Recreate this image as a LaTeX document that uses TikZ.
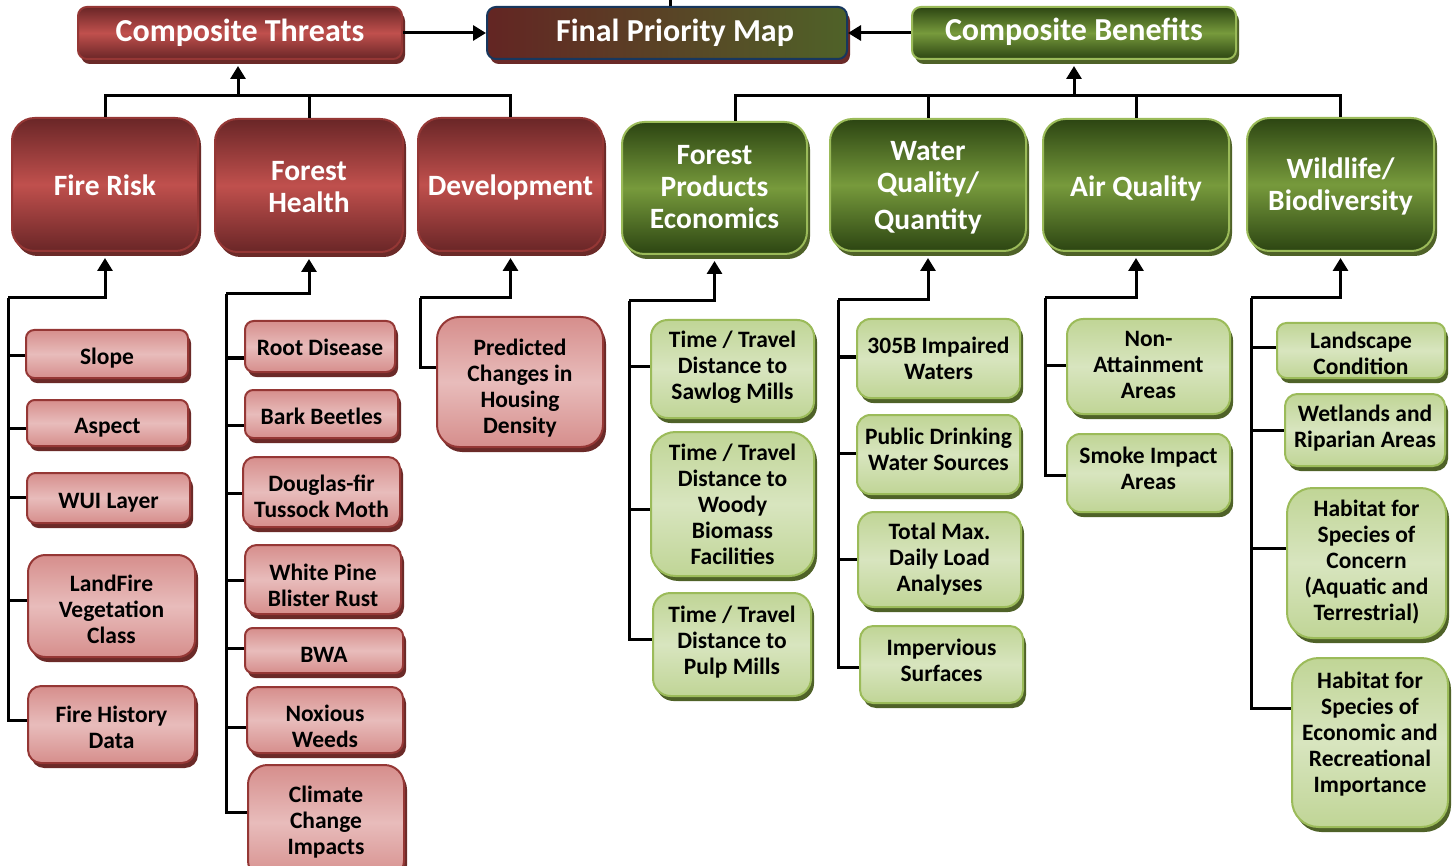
\documentclass[tikz,border=0pt]{standalone}
\usepackage{fontspec}
\setmainfont{Carlito}
\usetikzlibrary{arrows.meta,shadows}
\definecolor{rdark}{HTML}{6A2627}
\definecolor{rmid}{HTML}{C0504D}
\definecolor{rborder}{HTML}{953735}
\definecolor{rshadow}{HTML}{6B2A28}
\definecolor{rltop}{HTML}{D68E8C}
\definecolor{rlmid}{HTML}{E8BCBB}
\definecolor{gdark}{HTML}{2C4512}
\definecolor{gmid}{HTML}{779A3C}
\definecolor{gborder}{HTML}{9BBB59}
\definecolor{gshadow}{HTML}{4F6228}
\definecolor{gltop}{HTML}{C0D596}
\definecolor{glmid}{HTML}{D8E5BF}
\definecolor{fleft}{HTML}{632523}
\definecolor{fright}{HTML}{4F6228}
\definecolor{fborder}{HTML}{17375E}
% #1 shape style, #2 text style, #3 name, #4 x1, #5 y1, #6 x2, #7 y2, #8 text
\newcommand\mybox[8]{%
  \pgfmathsetmacro\BXw{#6-#4}%
  \pgfmathsetmacro\BXh{#7-#5}%
  \pgfmathsetmacro\BXr{0.17*min(\BXw,\BXh)}%
  \node[#1, minimum width=\BXw pt, minimum height=\BXh pt, rounded corners=\BXr pt] (#3) at ({(#4+#6)/2},{(#5+#7)/2}) {};
  \node[#2] (#3-t) at (#3.center) {#8};}
\newcommand\branch[3]{\draw[conn] (#1 |- 0,#3) -- (#2.west |- 0,#3);}
\begin{document}
\begin{tikzpicture}[x=1pt,y=-1pt,
  box/.style={draw, line width=2pt, inner sep=0pt},
  rshad/.style={drop shadow={shadow xshift=3pt,shadow yshift=-5pt,fill=rshadow,opacity=1}},
  gshad/.style={drop shadow={shadow xshift=3pt,shadow yshift=-5pt,fill=gshadow,opacity=1}},
  txt/.style={align=center, inner sep=0pt},
  tt/.style={txt, text=white, font=\fontsize{32}{35}\selectfont\bfseries},
  mt/.style={txt, text=white, font=\fontsize{29.5}{32}\selectfont\bfseries},
  lt/.style={txt, text=black, font=\fontsize{23.5}{26}\selectfont\bfseries},
  redtop/.style={box, rshad, draw=rborder, top color=rdark, bottom color=rdark, middle color=rmid},
  greentop/.style={box, gshad, draw=gborder, top color=gdark, bottom color=gdark, middle color=gmid},
  finaltop/.style={box, rshad, draw=fborder, left color=fleft, right color=fright},
  redleaf/.style={box, rshad, draw=rborder, top color=rltop, bottom color=rltop, middle color=rlmid},
  greenleaf/.style={box, gshad, draw=gborder, top color=gltop, bottom color=gltop, middle color=glmid},
  conn/.style={draw=black, line width=3pt},
  arr/.style={conn, -{Triangle[width=15pt,length=13pt]}},
]
\useasboundingbox (0,0) rectangle (1453,866);

% top level
\mybox{redtop}{tt}{threats}{78}{7}{402}{59}{Composite Threats}
\mybox{finaltop}{tt,xshift=8pt}{final}{487}{7}{847}{59}{Final Priority Map}
\mybox{greentop}{tt,yshift=1pt}{benefits}{912}{7}{1236}{59}{Composite Benefits}

% second level
\mybox{redtop}{mt,yshift=-1pt}{fire}{12}{118}{198}{251}{Fire Risk}
\mybox{redtop}{mt,yshift=-2pt}{health}{215}{119}{403}{252}{Forest\\Health}
\mybox{redtop}{mt,yshift=-3pt}{dev}{418}{118}{603}{251}{Development}
\mybox{greentop}{mt,yshift=1pt}{fpe}{622}{122}{807}{254}{Forest\\Products\\Economics}
\mybox{greentop}{mt,yshift=-3pt}{water}{830}{119}{1026}{251}{Water\\Quality/\\[5pt]Quantity}
\mybox{greentop}{mt,yshift=-3pt}{air}{1043}{119}{1229}{251}{Air Quality}
\mybox{greentop}{mt,yshift=-2pt}{wild}{1247}{118}{1434}{251}{Wildlife/\\Biodiversity}

% leaves: fire risk
\mybox{redleaf}{lt,yshift=-4pt}{slope}{26}{330}{188}{378}{Slope}
\mybox{redleaf}{lt,yshift=-5pt}{aspect}{27}{400}{188}{446}{Aspect}
\mybox{redleaf}{lt,yshift=-5pt}{wui}{27}{473}{190}{523}{WUI Layer}
\mybox{redleaf}{lt,yshift=-3pt}{landfire}{28}{555}{195}{657}{LandFire\\Vegetation\\Class}
\mybox{redleaf}{lt,yshift=-3pt}{firehist}{28}{686}{195}{763}{Fire History\\Data}
% forest health
\mybox{redleaf}{lt,yshift=-1pt}{root}{245}{321}{395}{372}{Root Disease}
\mybox{redleaf}{lt,yshift=-2pt}{bark}{245}{390}{398}{438}{Bark Beetles}
\mybox{redleaf}{lt,yshift=-4pt}{dfir}{243}{457}{400}{527}{Douglas-fir\\Tussock Moth}
\mybox{redleaf}{lt,yshift=-6pt}{wpbr}{245}{545}{401}{614}{White Pine\\Blister Rust}
\mybox{redleaf}{lt,yshift=-4pt}{bwa}{245}{628}{403}{673}{BWA}
\mybox{redleaf}{lt,yshift=-6pt}{nox}{247}{687}{403}{753}{Noxious\\Weeds}
\mybox{redleaf}{lt}{climate}{248}{765}{404}{880}{Climate\\Change\\Impacts}
% development
\mybox{redleaf}{lt,yshift=-6pt}{pred}{437}{317}{603}{447}{Predicted\\Changes in\\Housing\\Density}
% forest products
\mybox{greenleaf}{lt,yshift=2pt}{saw}{651}{320}{814}{418}{Time / Travel\\Distance to\\Sawlog Mills}
\mybox{greenleaf}{lt}{woody}{651}{432}{814}{576}{Time / Travel\\Distance to\\Woody\\Biomass\\Facilities}
\mybox{greenleaf}{lt,yshift=2pt}{pulp}{653}{593}{811}{696}{Time / Travel\\Distance to\\Pulp Mills}
% water
\mybox{greenleaf}{lt}{w305}{857}{319}{1020}{398}{305B Impaired\\Waters}
\mybox{greenleaf}{lt,yshift=5pt}{pdws}{857}{415}{1020}{494}{Public Drinking\\Water Sources}
\mybox{greenleaf}{lt}{tmdl}{858}{512}{1021}{607}{Total Max.\\Daily Load\\Analyses}
\mybox{greenleaf}{lt,yshift=4pt}{imperv}{860}{626}{1023}{703}{Impervious\\Surfaces}
% air
\mybox{greenleaf}{lt,yshift=2pt}{nonatt}{1067}{319}{1230}{414}{Non-\\Attainment\\Areas}
\mybox{greenleaf}{lt,yshift=5pt}{smoke}{1067}{434}{1230}{512}{Smoke Impact\\Areas}
% wildlife
\mybox{greenleaf}{lt,yshift=-3pt}{land}{1277}{323}{1445}{378}{Landscape\\Condition}
\mybox{greenleaf}{lt,yshift=2pt}{wet}{1285}{394}{1445}{466}{Wetlands and\\Riparian Areas}
\mybox{greenleaf}{lt,yshift=1pt}{habc}{1287}{488}{1446}{638}{Habitat for\\Species of\\Concern\\(Aquatic and\\Terrestrial)}
\mybox{greenleaf}{lt,yshift=8.5pt}{habe}{1292}{658}{1448}{827}{Habitat for\\Species of\\Economic and\\Recreational\\Importance}

% top connectors
\draw[arr] (threats.east) -- (final.west);
\draw[arr] (benefits.west) -- (final.east);
\coordinate (topstub) at (670,0);
\draw[conn] (final.north -| topstub) -- (topstub);

% buses
\coordinate (tbus) at (238,96);
\coordinate (bbus) at (1074,96);
\coordinate (fpestub) at (735,96);
\draw[conn] (fire.north) |- (tbus) -| (dev.north);
\draw[conn] (health.north) -- (health.north |- tbus);
\draw[arr, shorten >=6pt] (tbus) -- (threats.south -| tbus);
\draw[conn] (fpe.north -| fpestub) -- (fpestub) -| (wild.north);
\draw[conn] (water.north) -- (water.north |- bbus);
\draw[conn] (air.north) -- (air.north |- bbus);
\draw[arr, shorten >=6pt] (bbus) -- (benefits.south -| bbus);

% fire risk group
\coordinate (fc) at (8,298);
\draw[arr, shorten >=6pt] (fc) -| (fire.south);
\draw[conn] (fc) -- (fc |- 0,720) -- (firehist.west |- 0,720);
\branch{fc}{slope}{356}\branch{fc}{aspect}{428}\branch{fc}{wui}{497}\branch{fc}{landfire}{600}

% forest health group
\coordinate (hc) at (226,294);
\draw[arr, shorten >=6pt] (hc) -| (health.south);
\draw[conn] (hc) -- (hc |- 0,812) -- (climate.west |- 0,812);
\branch{hc}{root}{358}\branch{hc}{bark}{425}\branch{hc}{dfir}{493}\branch{hc}{wpbr}{580}\branch{hc}{bwa}{648}\branch{hc}{nox}{727}

% development group
\coordinate (dc) at (420,298);
\draw[arr, shorten >=6pt] (dc) -| (dev.south);
\draw[conn] (dc) -- (dc |- 0,367) -- (pred.west |- 0,367);

% forest products group
\coordinate (pc) at (629,301);
\draw[arr, shorten >=6pt] (pc) -| (fpe.south);
\draw[conn] (pc) -- (pc |- 0,639) -- (pulp.west |- 0,639);
\branch{pc}{saw}{366}\branch{pc}{woody}{509}

% water group
\coordinate (wc) at (838,300);
\draw[arr, shorten >=6pt] (wc) -| (water.south);
\draw[conn] (wc) -- (wc |- 0,667) -- (imperv.west |- 0,667);
\branch{wc}{w305}{357}\branch{wc}{pdws}{453}\branch{wc}{tmdl}{559}

% air group
\coordinate (ac) at (1045,298);
\draw[arr, shorten >=6pt] (ac) -| (air.south);
\draw[conn] (ac) -- (ac |- 0,475) -- (smoke.west |- 0,475);
\branch{ac}{nonatt}{365}

% wildlife group
\coordinate (lc) at (1251,298);
\draw[arr, shorten >=6pt] (lc) -| (wild.south);
\draw[conn] (lc) -- (lc |- 0,708) -- (habe.west |- 0,708);
\branch{lc}{land}{348}\branch{lc}{wet}{430}\branch{lc}{habc}{548}
\end{tikzpicture}
\end{document}
